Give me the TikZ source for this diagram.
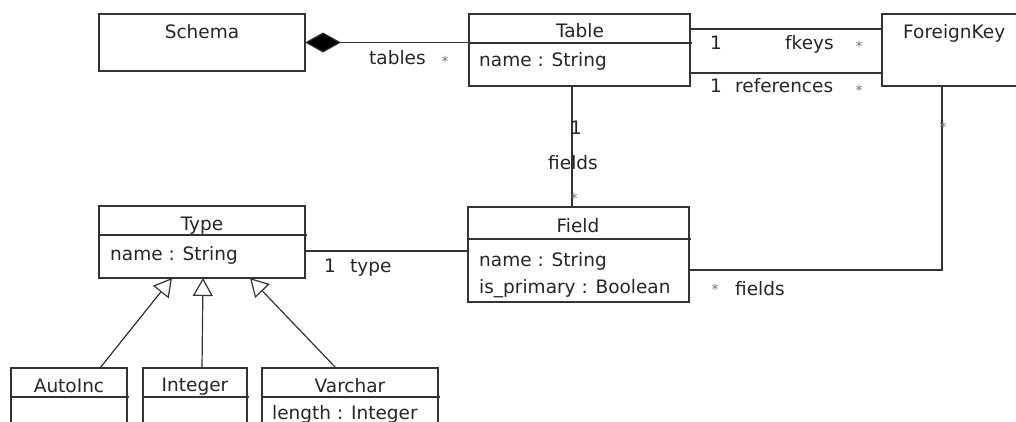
\documentclass[tikz,border=0pt]{standalone}
\usepackage{fontspec}
\setmainfont{DejaVu Sans}
\usetikzlibrary{arrows.meta}
\begin{document}
\begin{tikzpicture}[x=1pt,y=-1pt,
  box/.style={draw=black!80, line width=1.2pt, anchor=north west, inner sep=0pt, outer sep=0pt},
  conn/.style={draw=black!80, line width=1.2pt},
  lbl/.style={text=black!85, font=\fontsize{18.5}{22}\selectfont, inner sep=0pt},
  mult/.style={text=black!55, font=\fontsize{14}{14}\selectfont, inner sep=0pt, yshift=-2.8pt},
  gen/.style={conn, -{Triangle[length=18pt, width=20pt, fill=white]}}
]
\useasboundingbox (0,0) rectangle (1016,422);
\clip (0,0) rectangle (1016,422);
\fill[white] (0,0) rectangle (1016,422);

% class boxes
\node[box, minimum width=206pt, minimum height=57pt] (schema) at (99,14) {};
\node[box, minimum width=221pt, minimum height=72pt] (table) at (469,14) {};
\node[box, minimum width=150pt, minimum height=72pt] (fk) at (882,14) {};
\node[box, minimum width=206pt, minimum height=72pt] (type) at (99,206) {};
\node[box, minimum width=221pt, minimum height=95pt] (field) at (468,207) {};
\node[box, minimum width=116pt, minimum height=80pt] (autoinc) at (11,368) {};
\node[box, minimum width=104pt, minimum height=80pt] (integer) at (143,368) {};
\node[box, minimum width=176pt, minimum height=80pt] (varchar) at (262,368) {};

% separators
\draw[conn] ([yshift=-29pt]table.north west) -- ([yshift=-29pt,xshift=2pt]table.north east);
\draw[conn] ([yshift=-29pt]type.north west) -- ([yshift=-29pt,xshift=2pt]type.north east);
\draw[conn] ([yshift=-32pt]field.north west) -- ([yshift=-32pt,xshift=2pt]field.north east);
\draw[conn] ([yshift=-29pt]autoinc.north west) -- ([yshift=-29pt,xshift=2pt]autoinc.north east);
\draw[conn] ([yshift=-29pt]integer.north west) -- ([yshift=-29pt,xshift=2pt]integer.north east);
\draw[conn] ([yshift=-29pt]varchar.north west) -- ([yshift=-29pt,xshift=2pt]varchar.north east);

% titles and attributes
\node[lbl, anchor=base] (schemaT) at (202,39) {Schema};
\node[lbl, anchor=base] (tableT) at (580,38) {Table};
\node[lbl, anchor=base west] (tableA) at (479,67) {name : String};
\node[lbl, anchor=base west] (fkT) at (903,39) {ForeignKey};
\node[lbl, anchor=base] (typeT) at (202,230) {Type};
\node[lbl, anchor=base west] (typeA) at (110,260) {name : String};
\node[lbl, anchor=base] (fieldT) at (578,232) {Field};
\node[lbl, anchor=base west] (fieldA) at (479,266) {name : String};
\node[lbl, anchor=base west] (fieldB) at (479,293) {is\_primary : Boolean};
\node[lbl, anchor=base] (autoincT) at (69,392) {AutoInc};
\node[lbl, anchor=base] (integerT) at (195,391) {Integer};
\node[lbl, anchor=base] (varcharT) at (350,392) {Varchar};
\node[lbl, anchor=base west] (varcharA) at (272,419) {length : Integer};

% composition Schema - Table
\draw[conn, {Diamond[fill=black, length=36pt, width=20pt]}-] (schema.east) -- (schema.east -| table.west);
\node[lbl, anchor=base west] (tablesL) at (369,65) {tables};
\node[mult] (tablesM) at (445,59) {*};

% Table - ForeignKey
\draw[conn] ([yshift=-15pt]table.north east) -- ([yshift=-15pt]fk.north west);
\draw[conn] ([yshift=13pt]table.south east) -- ([yshift=13pt]fk.south west);
\node[lbl, anchor=base] (fk1) at (716,50) {1};
\node[lbl, anchor=base west] (fkeysL) at (785,50) {fkeys};
\node[mult] (fkeysM) at (859,44) {*};
\node[lbl, anchor=base] (ref1) at (716,93) {1};
\node[lbl, anchor=base west] (refL) at (735,93) {references};
\node[mult] (refM) at (859,88) {*};

% Table - Field
\coordinate (tfx) at ([xshift=-7.5pt]table.south);
\draw[conn] (tfx) -- (tfx |- field.north);
\node[lbl, anchor=base] (tf1) at (576,135) {1};
\node[lbl, anchor=base] (tfL) at (573,170) {fields};
\node[mult] (tfM) at (574,196) {*};

% Type - Field
\coordinate (tyf) at ([yshift=-45pt]type.north east);
\draw[conn] (tyf) -- (tyf -| field.west);
\node[lbl, anchor=base] (ty1) at (330,272) {1};
\node[lbl, anchor=base west] (tyL) at (350,272) {type};

% Field - ForeignKey
\coordinate (ffa) at ([yshift=-63pt]field.north east);
\coordinate (ffb) at ([xshift=60pt]fk.south west);
\draw[conn] (ffa) -- (ffa -| ffb) -- (ffb);
\node[mult] (ffM1) at (715,287) {*};
\node[lbl, anchor=base west] (ffL) at (735,295) {fields};
\node[mult] (ffM2) at (943,125) {*};

% generalizations
\draw[gen] ([xshift=89pt]autoinc.north west) -- ([xshift=73pt]type.south west);
\draw[gen] ([xshift=59pt]integer.north west) -- ([xshift=104pt]type.south west);
\draw[gen] ([xshift=74pt]varchar.north west) -- ([xshift=151pt]type.south west);
\end{tikzpicture}
\end{document}
